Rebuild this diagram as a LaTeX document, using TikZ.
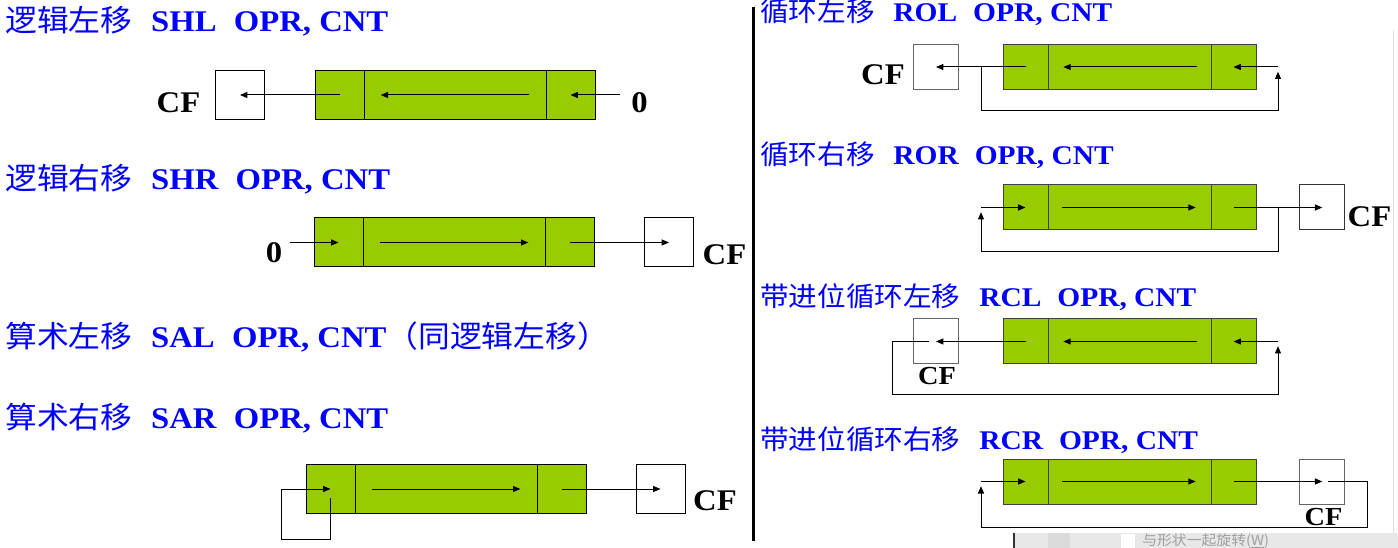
\documentclass[tikz,border=0pt]{standalone}
\usepackage{fontspec}
\setmainfont[FakeStretch=1.09]{Liberation Serif}
\newfontfamily\cjk[FakeStretch=1.06]{Noto Sans CJK SC}
\usetikzlibrary{arrows.meta,positioning,calc}
\newcommand{\zh}[1]{{\cjk\mdseries #1}}
\definecolor{regGreen}{RGB}{153,204,0}
\definecolor{titleBlue}{RGB}{0,0,255}
\tikzset{
  sidecell/.style={draw, fill=regGreen, inner sep=0pt, outer sep=0pt, line width=0.75pt, minimum width=36.75pt, minimum height=36.75pt},
  midcell/.style={sidecell, minimum width=136.5pt},
  flagbox/.style={draw, fill=white, inner sep=0pt, outer sep=0pt, line width=0.75pt, minimum size=36.75pt},
  rsidecell/.style={draw=black!75, fill=regGreen, inner sep=0pt, outer sep=0pt, line width=0.75pt, minimum width=33.75pt, minimum height=33.75pt},
  rmidcell/.style={rsidecell, minimum width=122.25pt},
  rflagbox/.style={draw=black!60, fill=white, inner sep=0pt, outer sep=0pt, line width=0.75pt, minimum size=33.75pt},
  lbl/.style={font=\bfseries\fontsize{22.5}{24}\selectfont, inner sep=0pt, anchor=base},
  slbl/.style={lbl, font=\bfseries\fontsize{19.5}{21}\selectfont},
  title/.style={text=titleBlue, font=\bfseries\fontsize{22.5}{24}\selectfont, inner sep=0pt, anchor=base west},
  rtitle/.style={title, font=\bfseries\fontsize{20.25}{22}\selectfont},
  flow/.style={-{Triangle[length=5.5pt,width=4.5pt]}, line width=0.75pt},
  inner/.style={flow, shorten <=12.5pt, shorten >=12.5pt},
  rinner/.style={flow, shorten <=10.5pt, shorten >=11.5pt}
}

\begin{document}
\begin{tikzpicture}[x=0.75pt, y=-0.75pt]
  \useasboundingbox (0,0) rectangle (1398,548);

  % left column
  \node[title] (shlTitle) at (5,32) {\zh{逻辑左移}\hspace{14pt}SHL\hspace{13pt}OPR, CNT};
  \node[sidecell, anchor=west] (shlL) at (315,95) {};
  \node[midcell, right=0pt of shlL] (shlM) {};
  \node[sidecell, right=0pt of shlM] (shlR) {};
  \node[flagbox] (shlCF) at (240,95) {};
  \node[lbl] (shlCFlbl) at (178.5,113) {CF};
  \node[lbl] (shlZero) at (639.5,113) {0};
  \coordinate (shlIn) at (620,95);
  \draw[flow] (shlIn) -- (shlR.center);
  \draw[inner] (shlM.east) -- (shlM.west);
  \draw[flow] (shlL.center) -- (shlCF.center);

  \node[title] (shrTitle) at (5,190) {\zh{逻辑右移}\hspace{14pt}SHR\hspace{13pt}OPR, CNT};
  \node[sidecell, anchor=west] (shrL) at (314,242.5) {};
  \node[midcell, right=0pt of shrL] (shrM) {};
  \node[sidecell, right=0pt of shrM] (shrR) {};
  \node[flagbox] (shrCF) at (669,242.5) {};
  \node[lbl] (shrZero) at (274,263) {0};
  \node[lbl] (shrCFlbl) at (724.5,265) {CF};
  \coordinate (shrIn) at (289.5,242.5);
  \draw[flow] (shrIn) -- (shrL.center);
  \draw[inner] (shrM.west) -- (shrM.east);
  \draw[flow] (shrR.center) -- (shrCF.center);

  \node[title] (salTitle) at (5,348) {\zh{算术左移}\hspace{14pt}SAL\hspace{13pt}OPR, CNT\zh{（同逻辑左移）}};

  \node[title] (sarTitle) at (5,428) {\zh{算术右移}\hspace{14pt}SAR\hspace{13pt}OPR, CNT};
  \node[sidecell, anchor=west] (sarL) at (306,489) {};
  \node[midcell, right=0pt of sarL] (sarM) {};
  \node[sidecell, right=0pt of sarM] (sarR) {};
  \node[flagbox] (sarCF) at (660.5,489) {};
  \node[lbl] (sarCFlbl) at (715,510) {CF};
  \coordinate (sarBot) at (281,539);
  \draw[flow] ([yshift=-6.75pt]sarL.center) -- (sarL.center |- sarBot) -- (sarBot)
    -- (sarBot |- sarL.center) -- (sarL.center);
  \draw[inner] (sarM.west) -- (sarM.east);
  \draw[flow] (sarR.center) -- (sarCF.center);

  % divider
  \draw[line width=2.25pt] (753.5,7) -- (753.5,541);

  % right column
  \node[rtitle] (rolTitle) at (760,22) {\zh{循环左移}\hspace{14pt}ROL\hspace{12pt}OPR, CNT};
  \node[rsidecell, anchor=west] (rolL) at (1003,67) {};
  \node[rmidcell, right=0pt of rolL] (rolM) {};
  \node[rsidecell, right=0pt of rolM] (rolR) {};
  \node[rflagbox] (rolCF) at (936,67) {};
  \node[lbl] (rolCFlbl) at (883,85) {CF};
  \coordinate (rolBot) at (981,111);
  \coordinate (rolTurn) at (1278,67);
  \draw[flow] (rolL.center) -- (rolCF.center);
  \draw[rinner] (rolM.east) -- (rolM.west);
  \draw[flow] (rolTurn) -- (rolR.center);
  \draw[flow] (rolBot |- rolL.center) -- (rolBot) -- (rolTurn |- rolBot) -- ([yshift=-3.5pt]rolTurn);

  \node[rtitle] (rorTitle) at (760,165) {\zh{循环右移}\hspace{14pt}ROR\hspace{12pt}OPR, CNT};
  \node[rsidecell, anchor=west] (rorL) at (1003,207.5) {};
  \node[rmidcell, right=0pt of rorL] (rorM) {};
  \node[rsidecell, right=0pt of rorM] (rorR) {};
  \node[rflagbox, draw=black!80] (rorCF) at (1322.3,207.5) {};
  \node[lbl] (rorCFlbl) at (1369.5,227) {CF};
  \coordinate (rorBot) at (981,251.7);
  \coordinate (rorTurn) at (1278,207.5);
  \draw[flow] (rorBot |- rorL.center) -- (rorL.center);
  \draw[rinner] (rorM.west) -- (rorM.east);
  \draw[flow] (rorR.center) -- (rorCF.center);
  \draw[flow] (rorTurn) -- (rorTurn |- rorBot) -- (rorBot) -- ([yshift=-3.5pt]rorBot |- rorL.center);

  \node[rtitle] (rclTitle) at (760,307) {\zh{带进位循环左移}\hspace{14pt}RCL\hspace{12pt}OPR, CNT};
  \node[rsidecell, anchor=west] (rclL) at (1003,341.5) {};
  \node[rmidcell, right=0pt of rclL] (rclM) {};
  \node[rsidecell, right=0pt of rclM] (rclR) {};
  \node[rflagbox] (rclCF) at (936,341.5) {};
  \node[slbl] (rclCFlbl) at (937,385) {CF};
  \coordinate (rclBot) at (892.6,394.3);
  \coordinate (rclTurn) at (1278,341.5);
  \draw[flow] (rclL.center) -- (rclCF.center);
  \draw[rinner] (rclM.east) -- (rclM.west);
  \draw[flow] (rclTurn) -- (rclR.center);
  \draw[flow] ([xshift=-5.25pt]rclCF.center) -- (rclBot |- rclCF.center) -- (rclBot)
    -- (rclTurn |- rclBot) -- ([yshift=-3.5pt]rclTurn);

  \node[rtitle] (rcrTitle) at (760,450) {\zh{带进位循环右移}\hspace{14pt}RCR\hspace{12pt}OPR, CNT};
  \node[rsidecell, anchor=west] (rcrL) at (1003,481.5) {};
  \node[rmidcell, right=0pt of rcrL] (rcrM) {};
  \node[rsidecell, right=0pt of rcrM] (rcrR) {};
  \node[rflagbox] (rcrCF) at (1322.3,481.5) {};
  \node[slbl] (rcrCFlbl) at (1323.5,525) {CF};
  \coordinate (rcrBot) at (981,527.3);
  \coordinate (rcrTurn) at (1367,481.5);
  \draw[flow] (rcrBot |- rcrL.center) -- (rcrL.center);
  \draw[rinner] (rcrM.west) -- (rcrM.east);
  \draw[flow] (rcrR.center) -- (rcrCF.center);
  \draw[flow] ([xshift=4.5pt]rcrCF.center) -- (rcrTurn) -- (rcrTurn |- rcrBot) -- (rcrBot)
    -- ([yshift=-3.5pt]rcrBot |- rcrL.center);

  % window strip at the bottom
  \draw[gray!25, line width=0.75pt] (1393,30) -- (1393,533);
  \fill[gray!18] (1015,533) rectangle (1398,548);
  \fill[gray!28] (1048,533) rectangle (1070,548);
  \fill[white] (1121,534) rectangle (1135,548);
  \draw[black!80, line width=1pt] (1014,533) -- (1014,548);
  \node[text=gray!75, font=\cjk\fontsize{10.5}{11}\selectfont, inner sep=0pt, anchor=west] (rotOpt) at (1142,541) {与形状一起旋转(\underline{W})};
\end{tikzpicture}
\end{document}
